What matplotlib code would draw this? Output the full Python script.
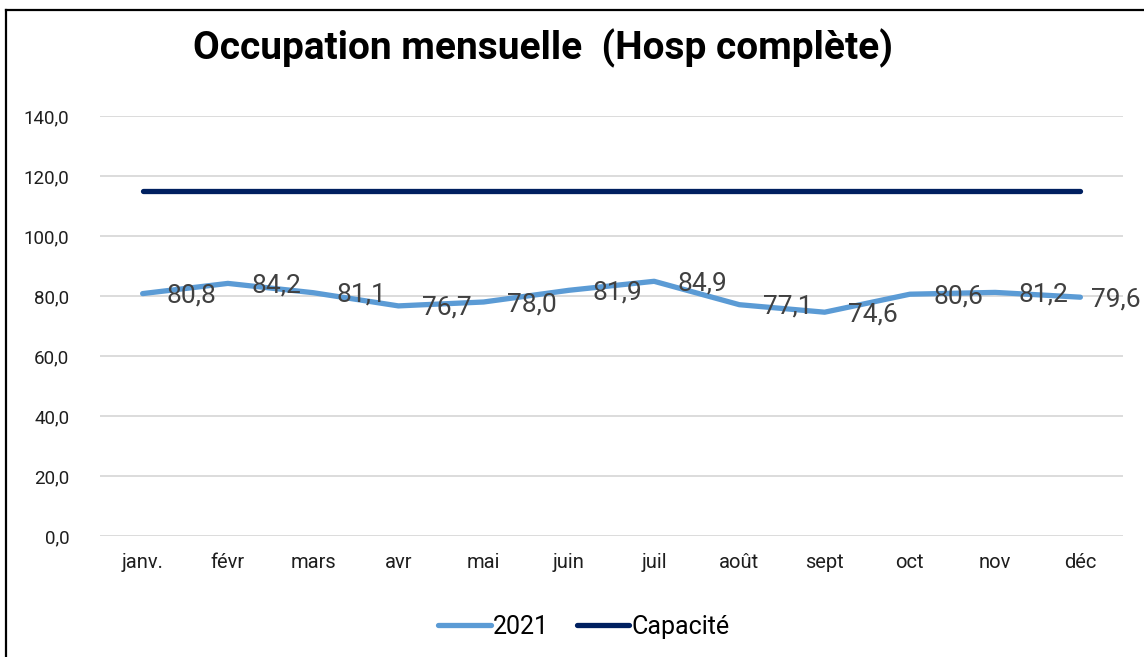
import matplotlib
matplotlib.use('Agg')
import matplotlib.pyplot as plt
from matplotlib.lines import Line2D

# data
months = ['janv.', 'févr', 'mars', 'avr', 'mai', 'juin', 'juil', 'août', 'sept', 'oct', 'nov', 'déc']
occ_2021 = [80.8, 84.2, 81.1, 76.7, 78.0, 81.9, 84.9, 77.1, 74.6, 80.6, 81.2, 79.6]
capacite = [115, 115, 115, 115, 115, 115, 115, 115, 115, 115, 115, 115]
yticks = [0, 20, 40, 60, 80, 100, 120, 140]

BLUE = '#5b9bd5'
NAVY = '#002060'
GRID = '#d9d9d9'
LABEL = '#404040'
TICK = '#1e1e1e'

plt.rcParams['font.family'] = ['Roboto', 'DejaVu Sans']

W, H = 1144, 657
fig = plt.figure(figsize=(W / 100, H / 100), dpi=100)
fig.patch.set_facecolor('white')

# chart frame (only left and top edges fall inside the picture)
fig.add_artist(Line2D([6 / W, 6 / W], [0, 1 - 10 / H], color='black', lw=1.6))
fig.add_artist(Line2D([6 / W, 1], [1 - 10 / H, 1 - 10 / H], color='black', lw=1.6))

ax = fig.add_axes([100 / W, 1 - 536 / H, (1123 - 100) / W, (536 - 116) / H])
x = list(range(len(months)))

ax.plot(x, occ_2021, color=BLUE, lw=3.8, solid_capstyle='round', solid_joinstyle='round', zorder=3)
ax.plot(x, capacite, color=NAVY, lw=3.8, solid_capstyle='round', zorder=3)

# labels to the right of each point; the last one is pulled in to stay inside the frame
for i, (xi, v) in enumerate(zip(x, occ_2021)):
    dx = 8 if i == len(x) - 1 else 17
    ax.annotate(f'{v:.1f}'.replace('.', ','), (xi, v), xytext=(dx, -1.5),
                textcoords='offset points', ha='left', va='center',
                fontsize=19, color=LABEL, zorder=4, annotation_clip=False)

ax.set_xlim(-0.5, 11.5)
ax.set_ylim(0, 140)
ax.set_yticks(yticks)
ax.set_yticklabels([f'{t:.1f}'.replace('.', ',') for t in yticks], fontsize=13.5, color=TICK)
ax.set_xticks(x)
ax.set_xticklabels(months, fontsize=14.5, color=TICK)
ax.tick_params(length=0)
ax.tick_params(axis='y', pad=22)
ax.tick_params(axis='x', pad=12)
ax.grid(axis='y', color=GRID, lw=1.3)
ax.set_axisbelow(True)
for s in ax.spines.values():
    s.set_visible(False)

fig.text(543 / W, 1 - 48 / H, 'Occupation mensuelle  (Hosp complète)',
         ha='center', va='center', fontsize=28, fontweight='bold', color='black')

handles = [Line2D([0], [0], color=BLUE, lw=3.8, solid_capstyle='round', label='2021'),
           Line2D([0], [0], color=NAVY, lw=3.8, solid_capstyle='round', label='Capacité')]
fig.legend(handles=handles, loc='center', bbox_to_anchor=(584 / W, 1 - 627 / H), ncol=2,
           frameon=False, fontsize=18, handlelength=2.1, handletextpad=0.1, columnspacing=1.1)

fig.savefig('out.png', dpi=100)
